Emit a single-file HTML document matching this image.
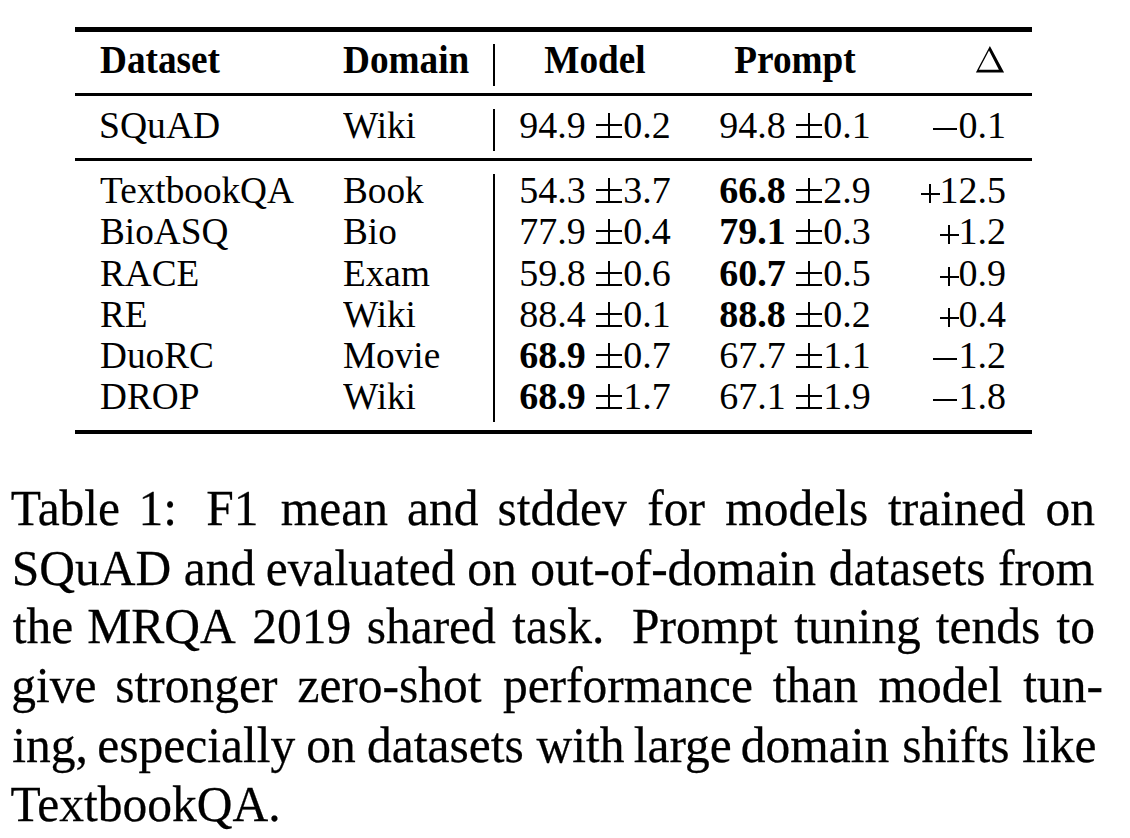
<!DOCTYPE html>
<html><head><meta charset="utf-8">
<style>
html,body{margin:0;padding:0;background:#fff;}
body{width:1130px;height:838px;position:relative;overflow:hidden;font-family:"Liberation Serif",serif;color:#000;}
.r{position:absolute;background:#000;}
.c{position:absolute;font-size:38px;line-height:38px;white-space:nowrap;}
.b{font-weight:bold;}
.pm,.pl,.mi{display:inline-block;position:relative;height:25px;vertical-align:baseline;}
.pm{width:26px;margin-left:1px;margin-right:1px;}
.pm i,.pm u,.pm s,.pl i,.pl u,.mi i{position:absolute;background:#000;display:block;}
.pm i{left:0;width:26px;bottom:0;height:2px;}
.pm u{left:0;width:26px;bottom:12px;height:2px;}
.pm s{left:12px;width:2px;bottom:0;height:25px;}
.pl{width:19.5px;margin-right:-0.5px;height:19px;}
.pl i{left:0;width:19.5px;bottom:8px;height:2px;}
.pl u{left:8.75px;width:2px;bottom:0;height:19px;}
.mi{width:24px;margin-right:2px;height:10px;}
.mi i{left:0;width:24px;bottom:8px;height:2px;}
.w{-webkit-text-stroke:0.25px #000;position:absolute;font-size:49.5px;line-height:49.5px;white-space:nowrap;transform:scaleY(1.04);transform-origin:0 41.45px;}
</style></head><body>
<div class="r" style="left:75px;top:27px;width:957px;height:5px"></div>
<div class="r" style="left:75px;top:93px;width:957px;height:3px"></div>
<div class="r" style="left:75px;top:158px;width:957px;height:3px"></div>
<div class="r" style="left:75px;top:430px;width:957px;height:4px"></div>
<div class="r" style="left:493px;top:44px;width:2px;height:42px"></div>
<div class="r" style="left:493px;top:109px;width:2px;height:42px"></div>
<div class="r" style="left:493px;top:174px;width:2px;height:248px"></div>
<div class="c b" style="top:41.18px;left:100px;transform:scale(0.98,1.05);transform-origin:0px 31.82px;">Dataset</div>
<div class="c b" style="top:41.18px;left:343px;transform:scale(0.98,1.05);transform-origin:0px 31.82px;">Domain</div>
<div class="c b" style="top:41.18px;left:395px;width:400px;text-align:center;transform:scale(0.98,1.05);transform-origin:200px 31.82px;">Model</div>
<div class="c b" style="top:41.18px;left:595px;width:400px;text-align:center;transform:scale(0.98,1.05);transform-origin:200px 31.82px;">Prompt</div>
<svg style="position:absolute;left:970px;top:40px" width="40" height="40" viewBox="0 0 40 40"><path fill="#000" fill-rule="evenodd" d="M19.9 6.1L5.9 32.6H34.1Z M19 10.4L8.9 29.7H28.9Z"/></svg>
<div class="c" style="top:106.18px;left:99px;transform:scale(0.99,1);transform-origin:0px 31.82px;">SQuAD</div>
<div class="c" style="top:106.18px;left:343px;transform:scale(0.98,1);transform-origin:0px 31.82px;">Wiki</div>
<div class="c" style="top:106.18px;left:395px;width:400px;text-align:center;">94.9 <span class="pm"><i></i><u></u><s></s></span>0.2</div>
<div class="c" style="top:106.18px;left:595px;width:400px;text-align:center;">94.8 <span class="pm"><i></i><u></u><s></s></span>0.1</div>
<div class="c" style="top:106.18px;left:606px;width:400px;text-align:right;"><span class="mi"><i></i></span>0.1</div>
<div class="c" style="top:171.18px;left:100px;transform:scale(0.98,1);transform-origin:0px 31.82px;">TextbookQA</div>
<div class="c" style="top:171.18px;left:343px;transform:scale(0.98,1);transform-origin:0px 31.82px;">Book</div>
<div class="c" style="top:171.18px;left:395px;width:400px;text-align:center;">54.3 <span class="pm"><i></i><u></u><s></s></span>3.7</div>
<div class="c" style="top:171.18px;left:595px;width:400px;text-align:center;"><b>66.8</b> <span class="pm"><i></i><u></u><s></s></span>2.9</div>
<div class="c" style="top:171.18px;left:606px;width:400px;text-align:right;"><span class="pl"><i></i><u></u></span>12.5</div>
<div class="c" style="top:212.18px;left:100px;transform:scale(0.98,1);transform-origin:0px 31.82px;">BioASQ</div>
<div class="c" style="top:212.18px;left:343px;transform:scale(0.98,1);transform-origin:0px 31.82px;">Bio</div>
<div class="c" style="top:212.18px;left:395px;width:400px;text-align:center;">77.9 <span class="pm"><i></i><u></u><s></s></span>0.4</div>
<div class="c" style="top:212.18px;left:595px;width:400px;text-align:center;"><b>79.1</b> <span class="pm"><i></i><u></u><s></s></span>0.3</div>
<div class="c" style="top:212.18px;left:606px;width:400px;text-align:right;"><span class="pl"><i></i><u></u></span>1.2</div>
<div class="c" style="top:254.18px;left:100px;transform:scale(0.98,1);transform-origin:0px 31.82px;">RACE</div>
<div class="c" style="top:254.18px;left:343px;transform:scale(0.98,1);transform-origin:0px 31.82px;">Exam</div>
<div class="c" style="top:254.18px;left:395px;width:400px;text-align:center;">59.8 <span class="pm"><i></i><u></u><s></s></span>0.6</div>
<div class="c" style="top:254.18px;left:595px;width:400px;text-align:center;"><b>60.7</b> <span class="pm"><i></i><u></u><s></s></span>0.5</div>
<div class="c" style="top:254.18px;left:606px;width:400px;text-align:right;"><span class="pl"><i></i><u></u></span>0.9</div>
<div class="c" style="top:295.18px;left:100px;transform:scale(0.98,1);transform-origin:0px 31.82px;">RE</div>
<div class="c" style="top:295.18px;left:343px;transform:scale(0.98,1);transform-origin:0px 31.82px;">Wiki</div>
<div class="c" style="top:295.18px;left:395px;width:400px;text-align:center;">88.4 <span class="pm"><i></i><u></u><s></s></span>0.1</div>
<div class="c" style="top:295.18px;left:595px;width:400px;text-align:center;"><b>88.8</b> <span class="pm"><i></i><u></u><s></s></span>0.2</div>
<div class="c" style="top:295.18px;left:606px;width:400px;text-align:right;"><span class="pl"><i></i><u></u></span>0.4</div>
<div class="c" style="top:336.18px;left:100px;transform:scale(0.98,1);transform-origin:0px 31.82px;">DuoRC</div>
<div class="c" style="top:336.18px;left:343px;transform:scale(0.98,1);transform-origin:0px 31.82px;">Movie</div>
<div class="c" style="top:336.18px;left:395px;width:400px;text-align:center;"><b>68.9</b> <span class="pm"><i></i><u></u><s></s></span>0.7</div>
<div class="c" style="top:336.18px;left:595px;width:400px;text-align:center;">67.7 <span class="pm"><i></i><u></u><s></s></span>1.1</div>
<div class="c" style="top:336.18px;left:606px;width:400px;text-align:right;"><span class="mi"><i></i></span>1.2</div>
<div class="c" style="top:377.18px;left:100px;transform:scale(0.98,1);transform-origin:0px 31.82px;">DROP</div>
<div class="c" style="top:377.18px;left:343px;transform:scale(0.98,1);transform-origin:0px 31.82px;">Wiki</div>
<div class="c" style="top:377.18px;left:395px;width:400px;text-align:center;"><b>68.9</b> <span class="pm"><i></i><u></u><s></s></span>1.7</div>
<div class="c" style="top:377.18px;left:595px;width:400px;text-align:center;">67.1 <span class="pm"><i></i><u></u><s></s></span>1.9</div>
<div class="c" style="top:377.18px;left:606px;width:400px;text-align:right;"><span class="mi"><i></i></span>1.8</div>
<span class="w" id="w0_0" style="left:10.86px;top:484.25px">Table</span>
<span class="w" id="w0_1" style="left:138.40px;top:484.25px">1:</span>
<span class="w" id="w0_2" style="left:206.32px;top:484.25px">F1</span>
<span class="w" id="w0_3" style="left:280.76px;top:484.25px">mean</span>
<span class="w" id="w0_4" style="left:407.01px;top:484.25px">and</span>
<span class="w" id="w0_5" style="left:497.42px;top:484.25px">stddev</span>
<span class="w" id="w0_6" style="left:647.18px;top:484.25px">for</span>
<span class="w" id="w0_7" style="left:725.16px;top:484.25px">models</span>
<span class="w" id="w0_8" style="left:888.07px;top:484.25px">trained</span>
<span class="w" id="w0_9" style="left:1045.51px;top:484.25px">on</span>
<span class="w" id="w1_0" style="left:11.69px;top:543.85px">SQuAD</span>
<span class="w" id="w1_1" style="left:183.76px;top:543.85px">and</span>
<span class="w" id="w1_2" style="left:265.77px;top:543.85px">evaluated</span>
<span class="w" id="w1_3" style="left:467.31px;top:543.85px">on</span>
<span class="w" id="w1_4" style="left:530.16px;top:543.85px">out-of-domain</span>
<span class="w" id="w1_5" style="left:828.71px;top:543.85px">datasets</span>
<span class="w" id="w1_6" style="left:997.98px;top:543.85px">from</span>
<span class="w" id="w2_0" style="left:12.82px;top:602.35px">the</span>
<span class="w" id="w2_1" style="left:87.32px;top:602.35px">MRQA</span>
<span class="w" id="w2_2" style="left:252.27px;top:602.35px">2019</span>
<span class="w" id="w2_3" style="left:366.67px;top:602.35px">shared</span>
<span class="w" id="w2_4" style="left:512.32px;top:602.35px">task.</span>
<span class="w" id="w2_5" style="left:632.07px;top:602.35px">Prompt</span>
<span class="w" id="w2_6" style="left:794.27px;top:602.35px">tuning</span>
<span class="w" id="w2_7" style="left:935.77px;top:602.35px">tends</span>
<span class="w" id="w2_8" style="left:1056.57px;top:602.35px">to</span>
<span class="w" id="w3_0" style="left:11.32px;top:661.35px">give</span>
<span class="w" id="w3_1" style="left:115.27px;top:661.35px">stronger</span>
<span class="w" id="w3_2" style="left:297.42px;top:661.35px">zero-shot</span>
<span class="w" id="w3_3" style="left:502.90px;top:661.35px">performance</span>
<span class="w" id="w3_4" style="left:772.82px;top:661.35px">than</span>
<span class="w" id="w3_5" style="left:878.41px;top:661.35px">model</span>
<span class="w" id="w3_6" style="left:1023.37px;top:661.35px">tun-</span>
<span class="w" id="w4_0" style="left:12.21px;top:721.35px">ing,</span>
<span class="w" id="w4_1" style="left:97.32px;top:721.35px">especially</span>
<span class="w" id="w4_2" style="left:306.36px;top:721.35px">on</span>
<span class="w" id="w4_3" style="left:366.96px;top:721.35px">datasets</span>
<span class="w" id="w4_4" style="left:536.50px;top:721.35px">with</span>
<span class="w" id="w4_5" style="left:633.71px;top:721.35px">large</span>
<span class="w" id="w4_6" style="left:740.76px;top:721.35px">domain</span>
<span class="w" id="w4_7" style="left:902.17px;top:721.35px">shifts</span>
<span class="w" id="w4_8" style="left:1022.26px;top:721.35px">like</span>
<span class="w" id="w5_0" style="left:10.41px;top:780.35px">TextbookQA.</span>
</body></html>
